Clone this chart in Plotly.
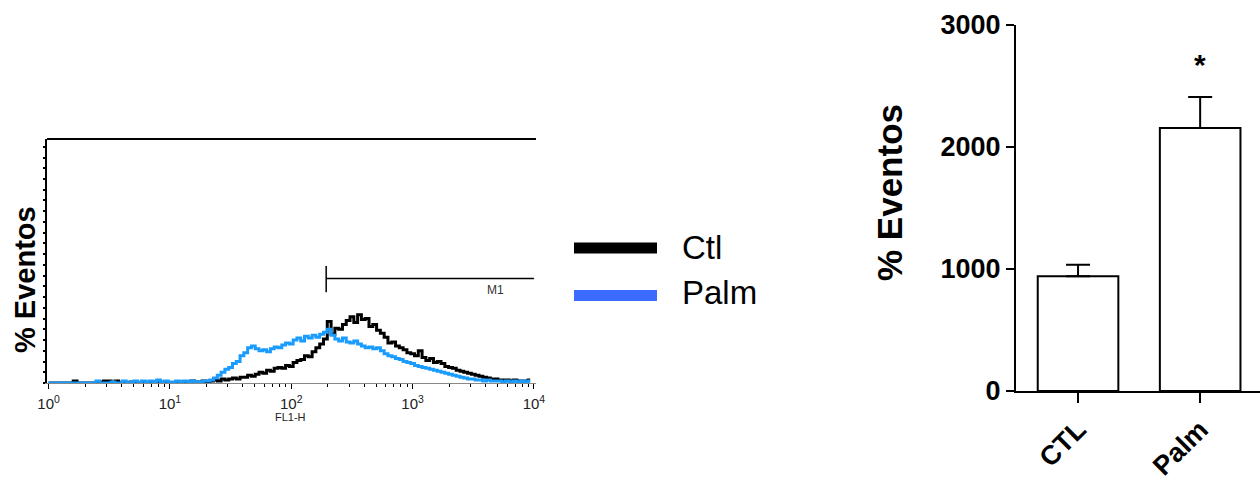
import plotly.graph_objects as go

# ---------------- data ----------------
# Flow cytometry histogram: 128 log channels spanning 10^0 .. 10^4 (FL1-H)
channels = list(range(128))
ctl_counts = [
    0, 0, 0, 0, 0, 0, 0, 2, 0, 0, 0, 0, 0, 0, 1, 2, 2, 0, 2, 0,
    0, 0, 1, 0, 0, 1, 0, 0, 1, 0, 0, 1, 0, 0, 0, 1, 0, 1, 2, 1,
    1, 2, 1, 2, 3, 2, 4, 3, 4, 5, 4, 6, 6, 8, 7, 9, 11, 10, 13, 12,
    15, 16, 15, 18, 17, 21, 23, 24, 28, 27, 32, 36, 40, 45, 63, 50, 56, 55, 60, 64,
    68, 62, 70, 65, 66, 58, 60, 54, 51, 47, 41, 42, 38, 36, 34, 31, 30, 28, 33, 26,
    23, 25, 21, 22, 20, 17, 16, 15, 13, 12, 11, 10, 9, 8, 7, 6, 5, 4, 4, 3,
    3, 3, 2, 3, 2, 2, 2, 3,
]
palm_counts = [
    0, 0, 0, 0, 0, 0, 0, 0, 0, 0, 0, 0, 0, 2, 0, 0, 0, 1, 0, 0,
    2, 0, 1, 2, 0, 2, 1, 2, 1, 3, 1, 2, 1, 1, 2, 1, 2, 1, 2, 1,
    1, 2, 2, 3, 5, 8, 11, 14, 16, 20, 22, 28, 31, 36, 38, 35, 33, 34, 32, 35,
    37, 36, 39, 41, 40, 44, 46, 43, 48, 46, 49, 47, 50, 52, 55, 49, 45, 43, 46, 42,
    41, 43, 40, 38, 36, 37, 35, 36, 33, 30, 28, 27, 25, 24, 22, 21, 20, 18, 17, 16,
    15, 14, 13, 12, 11, 10, 9, 8, 7, 6, 5, 4, 4, 3, 3, 2, 3, 2, 2, 2,
    1, 2, 1, 2, 1, 2, 1, 2,
]
channels_per_decade = 32
fl1h = [10 ** (c / channels_per_decade) for c in channels]

# M1 gate marker
m1_start = 194
m1_end = 10000
m1_level = 107
m1_tick = [93, 120]

x_tick_vals = [1, 10, 100, 1000, 10000]
x_tick_text = ["10<sup>0</sup>", "10<sup>1</sup>", "10<sup>2</sup>", "10<sup>3</sup>", "10<sup>4</sup>"]
x_minor_vals = [m * d for d in (1, 10, 100, 1000) for m in range(2, 10)]

# Bar chart
groups = ["CTL", "Palm"]
means = [940, 2155]
sems = [95, 255]
bar_ticks = [0, 1000, 2000, 3000]

FONT = "Liberation Sans, Arial, Helvetica, sans-serif"
BLUE_HIST = "#1A9CFF"
BLUE_LEG = "#3B6BFF"

fig = go.Figure()

# histogram traces
fig.add_trace(go.Scatter(x=fl1h, y=ctl_counts, mode="lines", line=dict(color="black", width=3, shape="hvh"),
                         showlegend=False, xaxis="x", yaxis="y", hoverinfo="skip"))
fig.add_trace(go.Scatter(x=fl1h, y=palm_counts, mode="lines", line=dict(color=BLUE_HIST, width=3, shape="hvh"),
                         showlegend=False, xaxis="x", yaxis="y", hoverinfo="skip"))

# M1 marker
fig.add_trace(go.Scatter(x=[m1_start, m1_end], y=[m1_level, m1_level], mode="lines",
                         line=dict(color="black", width=1.5), showlegend=False, xaxis="x", yaxis="y"))
fig.add_trace(go.Scatter(x=[m1_start, m1_start], y=m1_tick, mode="lines",
                         line=dict(color="black", width=1.5), showlegend=False, xaxis="x", yaxis="y"))
fig.add_trace(go.Scatter(x=[4800], y=[m1_level - 13], mode="text", text=["M1"],
                         textfont=dict(family=FONT, size=12, color="#333"), showlegend=False,
                         xaxis="x", yaxis="y"))

# bar chart
fig.add_trace(go.Bar(x=groups, y=means, width=0.66,
                     marker=dict(color="white", line=dict(color="black", width=2)),
                     error_y=dict(type="data", array=sems, arrayminus=[0, 0], symmetric=False,
                                  color="black", thickness=2, width=12),
                     showlegend=False, xaxis="x2", yaxis="y2"))

fig.update_layout(
    width=1260, height=487,
    autosize=False,
    margin=dict(l=0, r=0, t=0, b=0, pad=0, autoexpand=False),
    paper_bgcolor="white", plot_bgcolor="white",
    font=dict(family=FONT, color="black"),
    xaxis=dict(
        type="log", domain=[47 / 1260, 536 / 1260], range=[-0.013, 4.017], automargin=False,
        tickvals=x_tick_vals, ticktext=x_tick_text, ticks="outside", ticklen=5, tickwidth=1,
        tickcolor="black", tickfont=dict(size=15, color="#222"), ticklabelstandoff=2,
        minor=dict(tickvals=x_minor_vals, ticks="outside", ticklen=3, tickwidth=1, tickcolor="black", showgrid=False),
        showline=True, linecolor="#888", linewidth=1, showgrid=False, zeroline=False,
        anchor="y",
    ),
    yaxis=dict(
        domain=[(487 - 383) / 487, (487 - 139) / 487], range=[0, 250], automargin=False,
        tickmode="linear", tick0=0, dtick=11, ticks="outside", ticklen=2, tickwidth=1.5,
        tickcolor="black", showticklabels=False,
        showline=True, linecolor="black", linewidth=1.5, showgrid=False, zeroline=False,
        anchor="x",
    ),
    xaxis2=dict(
        domain=[1016 / 1260, 1.0], range=[-0.508, 1.49], automargin=False,
        ticks="outside", ticklen=10, tickwidth=2, tickcolor="black", tickangle=-45,
        tickfont=dict(size=27, family="Liberation Sans, Arial", color="black", weight="bold"),
        showline=True, linecolor="black", linewidth=2, showgrid=False, zeroline=False,
        anchor="y2",
    ),
    yaxis2=dict(
        domain=[(487 - 391) / 487, (487 - 25) / 487], range=[0, 3000], automargin=False,
        tickvals=bar_ticks, ticks="outside", ticklen=8, tickwidth=2, tickcolor="black",
        tickfont=dict(size=27, family="Liberation Sans, Arial", color="black", weight="bold"),
        showline=True, linecolor="black", linewidth=2, showgrid=False, zeroline=False,
        anchor="x2",
    ),
    shapes=[
        dict(type="line", xref="x domain", yref="y domain", x0=0, x1=1, y0=1, y1=1,
             line=dict(color="black", width=2)),
        dict(type="line", xref="paper", yref="paper", x0=574 / 1260, x1=657 / 1260,
             y0=(487 - 248) / 487, y1=(487 - 248) / 487, line=dict(color="black", width=11)),
        dict(type="line", xref="paper", yref="paper", x0=574 / 1260, x1=657 / 1260,
             y0=(487 - 295.5) / 487, y1=(487 - 295.5) / 487, line=dict(color=BLUE_LEG, width=11)),
    ],
    annotations=[
        dict(text="% Eventos", xref="paper", yref="paper", x=25 / 1260, y=(487 - 280) / 487,
             textangle=-90, showarrow=False, xanchor="center", yanchor="middle",
             font=dict(size=29, family="Liberation Sans, Arial", weight="bold", color="black")),
        dict(text="FL1-H", xref="paper", yref="paper", x=290 / 1260, y=(487 - 417) / 487,
             showarrow=False, xanchor="center", yanchor="middle",
             font=dict(size=11, color="#222")),
        dict(text="Ctl", xref="paper", yref="paper", x=680 / 1260, y=(487 - 247) / 487,
             showarrow=False, xanchor="left", yanchor="middle",
             font=dict(size=33, color="black")),
        dict(text="Palm", xref="paper", yref="paper", x=680 / 1260, y=(487 - 292) / 487,
             showarrow=False, xanchor="left", yanchor="middle",
             font=dict(size=33, color="black")),
        dict(text="% Eventos", xref="paper", yref="paper", x=889 / 1260, y=(487 - 193) / 487,
             textangle=-90, showarrow=False, xanchor="center", yanchor="middle",
             font=dict(size=35, family="Liberation Sans, Arial", weight="bold", color="black")),
        dict(text="*", xref="x2", yref="y2", x="Palm", y=2680,
             showarrow=False, xanchor="center", yanchor="middle",
             font=dict(size=30, family="Liberation Sans, Arial", weight="bold", color="black")),
    ],
)

fig.write_html("out.html")
